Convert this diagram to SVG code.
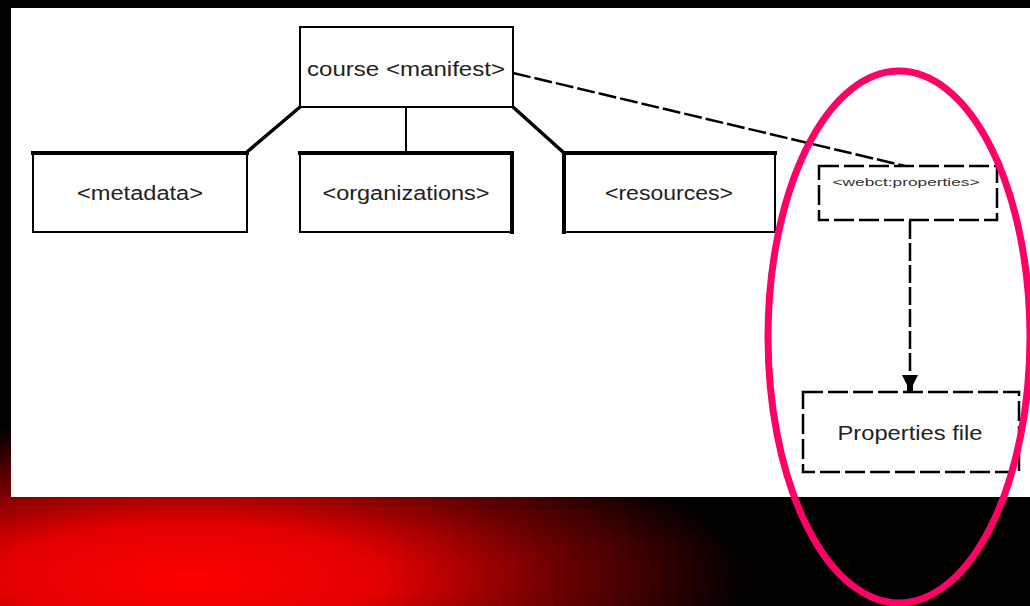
<svg xmlns="http://www.w3.org/2000/svg" width="1030" height="606" viewBox="0 0 1030 606">
<defs>
<radialGradient id="rg" gradientUnits="userSpaceOnUse" cx="0" cy="0" r="1" gradientTransform="translate(190,578) scale(560,160)">
<stop offset="0" stop-color="#ff0000"/>
<stop offset="0.35" stop-color="#e00000"/>
<stop offset="0.65" stop-color="#700000"/>
<stop offset="1" stop-color="#000000"/>
</radialGradient>
<marker id="arr" markerWidth="18" markerHeight="16" refX="17" refY="8" orient="auto" markerUnits="userSpaceOnUse" viewBox="0 0 18 16">
<path d="M0,0 L10,5 H17 V11 H10 L0,16 Z" fill="#000"/>
</marker>
<style>
.box{fill:#fff;stroke:#000;stroke-width:2}
.dbox{fill:#fff;stroke:#000;stroke-width:2.5;stroke-dasharray:20 5}
.thick{fill:none;stroke:#000;stroke-width:4;stroke-linecap:square}
.t{font-family:"Liberation Sans",Arial,sans-serif;font-size:20px;fill:#222;text-anchor:middle}
.ts{font-family:"Liberation Sans",Arial,sans-serif;font-size:11px;fill:#333;text-anchor:middle}
.c{fill:none;stroke:#000;stroke-width:2}
.ct{fill:none;stroke:#000;stroke-width:3.5}
.cd{fill:none;stroke:#000;stroke-width:2.5;stroke-dasharray:18 4}
</style>
</defs>
<rect width="1030" height="606" fill="#000"/>
<rect width="1030" height="606" fill="url(#rg)"/>
<rect x="11" y="8" width="1019" height="489" fill="#fff"/>

<g id="connectors">
<line class="ct" x1="300" y1="107" x2="247" y2="152"/>
<line class="c" x1="406" y1="107" x2="406" y2="152"/>
<line class="ct" x1="513" y1="107" x2="563" y2="152"/>
<line class="cd" x1="513" y1="73" x2="905" y2="166"/>
<line class="cd" x1="910" y1="221" x2="910" y2="392" marker-end="url(#arr)"/>
</g>

<g id="manifest">
<rect class="box" x="300" y="27" width="213" height="80"/>
<text class="t" x="406" y="76" textLength="198" lengthAdjust="spacingAndGlyphs">course &lt;manifest&gt;</text>
</g>
<g id="metadata">
<rect class="box" x="33" y="152" width="214" height="80"/>
<polyline class="thick" points="33,153 247,153"/>
<text class="t" x="140" y="200" textLength="126" lengthAdjust="spacingAndGlyphs">&lt;metadata&gt;</text>
</g>
<g id="organizations">
<rect class="box" x="300" y="152" width="213" height="80"/>
<polyline class="thick" points="300,153 512,153 512,232"/>
<text class="t" x="406" y="200" textLength="167" lengthAdjust="spacingAndGlyphs">&lt;organizations&gt;</text>
</g>
<g id="resources">
<rect class="box" x="563" y="152" width="212" height="80"/>
<polyline class="thick" points="564,232 564,153 775,153"/>
<text class="t" x="669" y="200" textLength="128" lengthAdjust="spacingAndGlyphs">&lt;resources&gt;</text>
</g>
<g id="webct-properties">
<rect class="dbox" x="819" y="166" width="178" height="54"/>
<text class="ts" x="906" y="186" textLength="147" lengthAdjust="spacingAndGlyphs">&lt;webct:properties&gt;</text>
</g>
<g id="properties-file">
<rect class="dbox" x="803" y="392" width="216" height="80"/>
<text class="t" x="910" y="440" textLength="145" lengthAdjust="spacingAndGlyphs">Properties file</text>
</g>
<ellipse id="highlight" cx="899" cy="337" rx="131" ry="266" fill="none" stroke="#ff0066" stroke-width="7"/>
</svg>
